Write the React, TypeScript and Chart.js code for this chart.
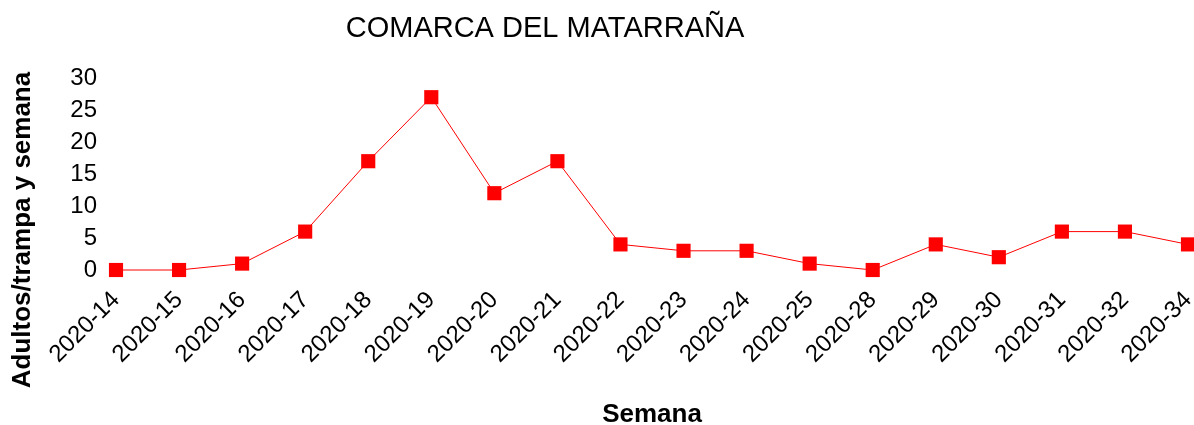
import React, { useEffect, useRef } from "react";
import { Chart, registerables } from "chart.js";

Chart.register(...registerables);

const weeks = [
  "2020-14", "2020-15", "2020-16", "2020-17", "2020-18", "2020-19",
  "2020-20", "2020-21", "2020-22", "2020-23", "2020-24", "2020-25",
  "2020-28", "2020-29", "2020-30", "2020-31", "2020-32", "2020-34",
];
const adults = [0, 0, 1, 6, 17, 27, 12, 17, 4, 3, 3, 1, 0, 4, 2, 6, 6, 4];
const yMin = 0;
const yMax = 30;
const yStep = 5;

const chartTitle = "COMARCA DEL MATARRAÑA";
const yTitle = "Adultos/trampa y semana";
const xTitle = "Semana";

const FONT = "'Liberation Sans', Arial, sans-serif";

const titlesPlugin = {
  id: "customTitles",
  afterDraw(chart: any) {
    const ctx = chart.ctx;
    ctx.save();
    ctx.fillStyle = "#000";
    ctx.font = `29px ${FONT}`;
    ctx.textAlign = "center";
    ctx.textBaseline = "middle";
    ctx.fillText(chartTitle, 545, 29);
    ctx.translate(23, 230);
    ctx.rotate(-Math.PI / 2);
    ctx.font = `bold 26px ${FONT}`;
    ctx.fillText(yTitle, 0, 0);
    ctx.restore();
  },
};

export default function App() {
  const ref = useRef<HTMLCanvasElement>(null);
  useEffect(() => {
    document.body.style.margin = "0";
    const canvas = ref.current!;
    const chart = new Chart(canvas, {
      type: "line",
      data: {
        labels: weeks,
        datasets: [
          {
            data: adults,
            borderColor: "#ff0000",
            backgroundColor: "#ff0000",
            borderWidth: 1,
            pointStyle: "rect",
            pointRadius: 10,
            pointBorderWidth: 0,
            pointBackgroundColor: "#ff0000",
            tension: 0,
            clip: false,
          },
        ],
      },
      options: {
        animation: false,
        responsive: false,
        layout: { padding: { top: 78, right: 0, left: 0, bottom: 0 } },
        plugins: { legend: { display: false }, title: { display: false }, tooltip: { enabled: false } },
        scales: {
          x: {
            offset: false,
            grid: { display: false, drawTicks: false },
            border: { display: false },
            ticks: {
              color: "#000",
              font: { family: FONT, size: 24 },
              minRotation: 45,
              maxRotation: 45,
              autoSkip: false,
              padding: 16,
            },
            title: {
              display: true,
              text: xTitle,
              color: "#000",
              font: { family: FONT, size: 26, weight: "bold", lineHeight: 1 },
              padding: { top: 0, bottom: -3 },
            },
            afterFit(scale: any) {
              scale.height = 155;
              scale.paddingLeft = 0;
              scale.paddingRight = 0;
            },
          },
          y: {
            min: yMin,
            max: yMax,
            grid: { display: false, drawTicks: false },
            border: { display: false },
            ticks: {
              stepSize: yStep,
              color: "#000",
              font: { family: FONT, size: 24 },
              padding: 19,
            },
            afterFit(scale: any) {
              scale.width = 116;
            },
          },
        },
      },
      plugins: [titlesPlugin],
    });
    return () => chart.destroy();
  }, []);
  return (
    <div style={{ width: 1194, height: 425, overflow: "hidden" }}>
      <canvas ref={ref} width={1198} height={425} style={{ display: "block" }} />
    </div>
  );
}
